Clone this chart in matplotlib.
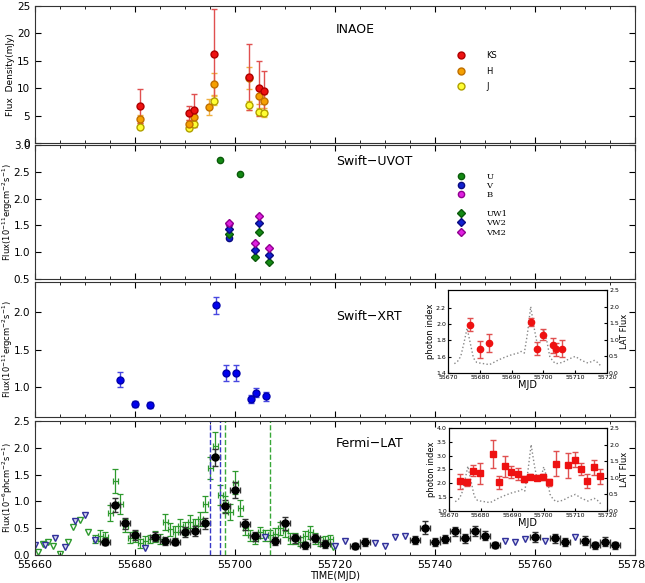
import numpy as np
import matplotlib.pyplot as plt
from matplotlib.ticker import MultipleLocator

# ---- INAOE (NIR) ----
ks_t = [55680.9, 55690.8, 55691.8, 55695.8, 55702.7, 55704.7, 55705.8]
ks_f = [6.8, 5.5, 6.0, 16.3, 12.1, 10.0, 9.5]
ks_e = [3.1, 1.3, 3.0, 8.2, 6.0, 5.0, 3.6]
h_t = [55680.9, 55690.8, 55691.8, 55694.8, 55695.8, 55702.7, 55704.7, 55705.8]
h_f = [4.4, 3.5, 4.7, 6.6, 10.8, 11.8, 8.5, 7.6]
h_e = [0.8, 0.7, 0.9, 1.4, 2.0, 2.0, 1.3, 1.3]
j_t = [55680.9, 55690.8, 55691.8, 55695.8, 55702.7, 55704.7, 55705.8]
j_f = [2.9, 2.7, 3.4, 7.7, 6.9, 5.7, 5.4]
j_e = [0.4, 0.4, 0.5, 0.8, 0.8, 0.6, 0.6]

# ---- Swift-UVOT ----
u_t = [55696.9, 55700.9]
u_f = [2.72, 2.46]
v_t = [55698.7]
v_f = [1.27]
b_t = [55698.7]
b_f = [1.52]
uvw_t = [55698.7, 55704.0, 55704.7, 55706.8]
uw1_f = [1.34, 0.92, 1.38, 0.81]
vw2_f = [1.44, 1.05, 1.54, 0.95]
vm2_f = [1.55, 1.17, 1.68, 1.07]

# ---- Swift-XRT ----
xrt_t = [55677.0, 55680.0, 55683.0, 55696.1, 55698.1, 55700.1, 55703.1, 55704.1, 55706.1]
xrt_f = [1.10, 0.78, 0.765, 2.09, 1.19, 1.19, 0.84, 0.925, 0.875]
xrt_e = [0.10, 0.04, 0.04, 0.11, 0.11, 0.11, 0.05, 0.06, 0.06]

# ---- Fermi-LAT 2-day bins ----
lat_t = [55674, 55676, 55678, 55680, 55684, 55686, 55688, 55690, 55692, 55694,
         55696, 55698, 55700, 55702, 55704, 55708, 55710, 55712, 55714, 55716,
         55718, 55724, 55726, 55736, 55738, 55740, 55742, 55744, 55746, 55748,
         55750, 55752, 55760, 55764, 55766, 55770, 55772, 55774, 55776]
lat_f = [0.25, 0.93, 0.59, 0.37, 0.34, 0.26, 0.25, 0.43, 0.45, 0.59,
         1.82, 0.91, 1.21, 0.57, 0.35, 0.26, 0.59, 0.31, 0.18, 0.32,
         0.21, 0.17, 0.24, 0.28, 0.51, 0.24, 0.30, 0.44, 0.31, 0.45,
         0.36, 0.19, 0.34, 0.31, 0.24, 0.27, 0.18, 0.25, 0.18]
lat_e = [0.07, 0.13, 0.10, 0.09, 0.08, 0.07, 0.06, 0.10, 0.10, 0.10,
         0.16, 0.12, 0.15, 0.10, 0.08, 0.07, 0.12, 0.08, 0.06, 0.08,
         0.07, 0.06, 0.07, 0.07, 0.12, 0.07, 0.08, 0.09, 0.08, 0.09,
         0.08, 0.06, 0.09, 0.08, 0.07, 0.08, 0.06, 0.08, 0.06]
ul_t = [55660, 55662, 55664, 55666, 55668, 55670, 55672, 55682, 55706, 55720,
        55722, 55728, 55730, 55732, 55734, 55754, 55756, 55758, 55762, 55768]
ul_f = [0.18, 0.18, 0.31, 0.15, 0.63, 0.74, 0.28, 0.13, 0.33, 0.16,
        0.26, 0.22, 0.17, 0.33, 0.36, 0.26, 0.25, 0.29, 0.26, 0.33]

# ---- Fermi-LAT daily bins ----
day_t = list(range(55672, 55720))
day_f = [0.30, 0.36, 0.33, 0.78, 1.38, 0.95, 0.55, 0.32, 0.35, 0.22,
         0.27, 0.30, 0.34, 0.30, 0.62, 0.48, 0.42, 0.55, 0.50, 0.62,
         0.56, 0.68, 0.95, 1.62, 2.04, 1.12, 0.95, 0.80, 1.35, 0.88,
         0.50, 0.37, 0.30, 0.42, 0.37, 0.37, 0.40, 0.50, 0.45, 0.31,
         0.31, 0.25, 0.35, 0.42, 0.31, 0.25, 0.28, 0.30]
day_e = [0.08, 0.10, 0.10, 0.15, 0.23, 0.18, 0.12, 0.10, 0.10, 0.08,
         0.08, 0.08, 0.10, 0.10, 0.15, 0.12, 0.12, 0.12, 0.12, 0.12,
         0.12, 0.13, 0.15, 0.20, 0.25, 0.18, 0.15, 0.15, 0.22, 0.15,
         0.12, 0.10, 0.10, 0.10, 0.10, 0.10, 0.10, 0.12, 0.12, 0.10,
         0.10, 0.08, 0.10, 0.12, 0.10, 0.08, 0.08, 0.08]
dul_t = [55660.5, 55661.5, 55662.5, 55663.5, 55665, 55666.5, 55667.5, 55669, 55670.5, 55719.5]
dul_f = [0.06, 0.20, 0.24, 0.17, 0.02, 0.25, 0.53, 0.66, 0.42, 0.15]

flare_blue = [55695, 55697]
flare_green = [55698, 55707]

# ---- photon index (insets) ----
idx1_t = [55677.0, 55680.0, 55682.9, 55696.0, 55698.0, 55700.0, 55702.9, 55703.9, 55705.9]
idx1 = [1.99, 1.69, 1.77, 2.03, 1.70, 1.87, 1.74, 1.69, 1.70]
idx1_e = [0.08, 0.10, 0.11, 0.05, 0.08, 0.07, 0.09, 0.08, 0.10]
idx2_t = [55673.6, 55675.8, 55677.7, 55679.8, 55683.8, 55685.7, 55687.7, 55689.7,
          55691.7, 55693.7, 55695.7, 55697.8, 55699.8, 55701.8, 55703.8, 55707.8,
          55709.8, 55711.8, 55713.8, 55715.8, 55717.9]
idx2 = [2.07, 2.03, 2.46, 2.37, 3.06, 2.03, 2.62, 2.41, 2.33, 2.15, 2.24,
        2.21, 2.23, 2.04, 2.71, 2.66, 2.86, 2.51, 2.09, 2.58, 2.25]
idx2_e = [0.27, 0.12, 0.20, 0.38, 0.50, 0.25, 0.38, 0.20, 0.22, 0.10, 0.08,
          0.08, 0.10, 0.12, 0.46, 0.45, 0.26, 0.22, 0.25, 0.28, 0.28]
curve_t = [55672, 55673, 55674, 55675, 55676, 55677, 55678, 55679, 55680, 55682,
           55683, 55684, 55686, 55688, 55690, 55692, 55693, 55694, 55695, 55696,
           55697, 55698, 55699, 55700, 55701, 55702, 55703, 55704, 55706, 55708,
           55710, 55712, 55714, 55716, 55717, 55718]
curve_f = [0.28, 0.35, 0.50, 0.90, 1.35, 0.90, 0.45, 0.32, 0.30, 0.27,
           0.25, 0.30, 0.40, 0.48, 0.55, 0.60, 0.65, 0.60, 1.20, 2.00,
           1.40, 0.90, 0.95, 1.33, 1.00, 0.50, 0.35, 0.28, 0.32, 0.42,
           0.50, 0.38, 0.30, 0.38, 0.32, 0.22]

plt.rcParams['font.family'] = 'DejaVu Sans'
plt.rcParams['mathtext.fontset'] = 'dejavusans'

fig = plt.figure(figsize=(6.45, 5.83), dpi=100)
L, W = 0.0543, 0.9302
ax1 = fig.add_axes([L, 0.7547, W, 0.2350])
ax2 = fig.add_axes([L, 0.5214, W, 0.2299])
ax3 = fig.add_axes([L, 0.2847, W, 0.2316])
ax4 = fig.add_axes([L, 0.0480, W, 0.2299])

for ax in (ax1, ax2, ax3, ax4):
    ax.set_xlim(55660, 55780)
    ax.xaxis.set_major_locator(MultipleLocator(20))
    ax.xaxis.set_minor_locator(MultipleLocator(5))
    ax.tick_params(which='both', direction='in', top=True, right=True, labelsize=7.5)
    ax.tick_params(which='major', length=4)
    ax.tick_params(which='minor', length=2)
    ax.spines[:].set_color('#333333')
    if ax is not ax4:
        ax.tick_params(labelbottom=False)
ax4.tick_params(axis='x', labelsize=8)

cap = dict(capsize=2.5, elinewidth=1, capthick=1)


def ylabel(ax, s, size=6):
    ax.set_ylabel(s, fontsize=size)
    ax.yaxis.set_label_coords(-0.034, 0.5)


# INAOE
ej = ax1.errorbar(j_t, j_f, yerr=j_e, fmt='o', color='#ffff33', mec='#b0a000', ecolor='#f0d040',
                  ms=5, **cap)
eh = ax1.errorbar(h_t, h_f, yerr=h_e, fmt='o', color='#f5a000', mec='#c07000', ecolor='#f0b040',
                  ms=5, **cap)
ek = ax1.errorbar(ks_t, ks_f, yerr=ks_e, fmt='o', color='#ee1111', mec='#b00000', ecolor='#e05050',
                  ms=5, **cap)
ax1.set_ylim(0, 25)
ax1.yaxis.set_major_locator(MultipleLocator(5))
ylabel(ax1, 'Flux  Density(mJy)', 6.5)
ax1.text(0.502, 0.832, 'INAOE', transform=ax1.transAxes, fontsize=9, va='center')
ax1.legend([ek[0], eh[0], ej[0]], ['KS', 'H', 'J'], loc='upper left',
           bbox_to_anchor=(0.7025, 0.6726), frameon=False, fontsize=6, handlelength=1.0,
           handletextpad=2.6, labelspacing=0.8, borderpad=0, borderaxespad=0)

# Swift-UVOT
pu, = ax2.plot(u_t, u_f, 'o', color='#138a13', mec='#0a5a0a', ms=4.5)
pv, = ax2.plot(v_t, v_f, 'o', color='#1020d0', mec='#0a0a80', ms=4.5)
pb, = ax2.plot(b_t, b_f, 'o', color='#e020e0', mec='#900090', ms=4.5)
pw1, = ax2.plot(uvw_t, uw1_f, 'D', color='#138a13', mec='#0a5a0a', ms=4.5)
pw2, = ax2.plot(uvw_t, vw2_f, 'D', color='#1020d0', mec='#0a0a80', ms=4.5)
pm2, = ax2.plot(uvw_t, vm2_f, 'D', color='#e020e0', mec='#900090', ms=4.5)
ax2.set_ylim(0.5, 3.0)
ax2.yaxis.set_major_locator(MultipleLocator(0.5))
ylabel(ax2, 'Flux(10$^{-11}$ergcm$^{-2}$s$^{-1}$)')
ax2.text(0.502, 0.875, 'Swift\u2212UVOT', transform=ax2.transAxes, fontsize=9, va='center')
leg_kw = dict(frameon=False, handlelength=1.0, handletextpad=2.6, labelspacing=0.15,
              borderpad=0, borderaxespad=0, prop={'family': 'DejaVu Serif', 'size': 6})
lg = ax2.legend([pu, pv, pb], ['U', 'V', 'B'], loc='upper left',
                bbox_to_anchor=(0.7025, 0.792), **leg_kw)
ax2.add_artist(lg)
ax2.legend([pw1, pw2, pm2], ['UW1', 'VW2', 'VM2'], loc='upper left',
           bbox_to_anchor=(0.7025, 0.514), **leg_kw)

# Swift-XRT
ax3.errorbar(xrt_t, xrt_f, yerr=xrt_e, fmt='o', color='#0000ee', mec='#0000aa',
             ecolor='#4848e0', ms=5, **cap)
ax3.set_ylim(0.6, 2.4)
ax3.yaxis.set_major_locator(MultipleLocator(0.5))
ylabel(ax3, 'Flux(10$^{-11}$ergcm$^{-2}$s$^{-1}$)')
ax3.text(0.502, 0.748, 'Swift\u2212XRT', transform=ax3.transAxes, fontsize=9, va='center')

# Fermi-LAT
ax4.errorbar(day_t, day_f, xerr=0.5, yerr=day_e, fmt='none', ecolor='#2e9a2e',
             elinewidth=0.9, capsize=2, capthick=0.9)
ax4.plot(dul_t, dul_f, 'v', mfc='none', mec='#2e9a2e', ms=4)
ax4.plot(ul_t, ul_f, 'v', mfc='#d8d8f0', mec='#30309a', ms=4)
ax4.errorbar(lat_t, lat_f, xerr=1.0, yerr=lat_e, fmt='o', color='black', ecolor='#333333',
             ms=5, elinewidth=1, capsize=2.5, capthick=1)
for t in flare_blue:
    ax4.axvline(t, color='#3838c8', ls='--', lw=1)
for t in flare_green:
    ax4.axvline(t, color='#38a838', ls='--', lw=1)
ax4.set_ylim(0, 2.5)
ax4.yaxis.set_major_locator(MultipleLocator(0.5))
ylabel(ax4, 'Flux(10$^{-6}$phcm$^{-2}$s$^{-1}$)')
ax4.set_xlabel('TIME(MJD)', fontsize=7, labelpad=1)
ax4.text(0.502, 0.834, 'Fermi\u2212LAT', transform=ax4.transAxes, fontsize=9, va='center')


def inset(rect, t, y, e, marker, ylim, step, drop_top):
    ia = fig.add_axes(rect)
    ia.errorbar(t, y, yerr=e, fmt=marker, color='#ee1111', mec='#ee1111', ecolor='#e05050',
                ms=4.5, capsize=2, elinewidth=1, capthick=1, zorder=3)
    ia.set_xlim(55670, 55720)
    ia.yaxis.set_major_locator(MultipleLocator(step))
    ia.xaxis.set_major_locator(MultipleLocator(10))
    ia.tick_params(direction='in', labelsize=4.5, length=2.5, pad=1.5)
    ia.set_xlabel('MJD', fontsize=7, labelpad=0)
    ia.set_ylabel('photon index', fontsize=6, labelpad=1)
    ta = ia.twinx()
    ta.plot(curve_t, curve_f, ':', color='#888888', lw=1)
    ta.set_ylim(0, 2.5)
    ta.yaxis.set_major_locator(MultipleLocator(0.5))
    ta.tick_params(direction='in', labelsize=4.5, length=2.5, pad=1.5)
    ta.set_ylabel('LAT Flux', fontsize=6, labelpad=1)
    ia.set_zorder(ta.get_zorder() + 1)
    ia.patch.set_visible(False)
    ta.patch.set_facecolor('white')
    ticks = np.arange(ylim[0], ylim[1] + 1e-6, step)
    ia.set_yticks(ticks[:-1] if drop_top else ticks)
    ia.set_ylim(*ylim)
    return ia


inset([0.6946, 0.3602, 0.2465, 0.1424], idx1_t, idx1, idx1_e, 'o', (1.4, 2.42), 0.2, True)
inset([0.6960, 0.1235, 0.2450, 0.1424], idx2_t, idx2, idx2_e, 's', (1.0, 4.0), 0.5, False)

fig.savefig('out.png', dpi=100)
